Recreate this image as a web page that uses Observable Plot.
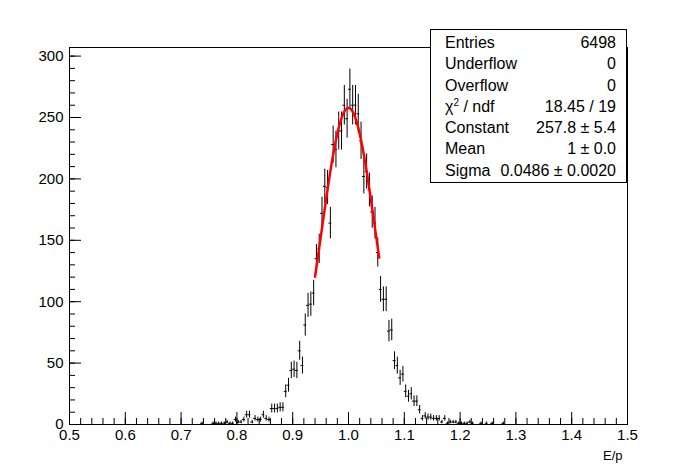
<!DOCTYPE html>
<html><head><meta charset="utf-8">
<script src="https://cdn.jsdelivr.net/npm/d3@7"></script>
<script src="https://cdn.jsdelivr.net/npm/@observablehq/plot@0.6"></script>
<style>
body{margin:0;background:#fff;font-family:"Liberation Sans",Helvetica,Arial,sans-serif}
#wrap{position:relative;width:696px;height:472px}
#stats{position:absolute;left:430px;top:29px;width:197px;height:154px;background:#fff;border:1px solid #000;box-sizing:border-box;font-size:16px;padding:2px 10px 0 14px}
#stats div{display:flex;justify-content:space-between;height:21.3px;line-height:21.3px;overflow:hidden}
#stats sup{font-size:10px;line-height:0;vertical-align:6px}
#xl{position:absolute;left:603px;top:448px;font-size:13px}
</style></head><body>
<div id="wrap"><div id="chart"></div>
<div id="stats"></div>
<div id="xl">E/p</div></div>
<script>
// bin lower edges and counts, bin width 0.005
const binWidth = 0.005
const lowTailEdges = [0.735,0.755,0.760,0.765,0.770,0.775,0.780,0.785,0.790,0.795,0.800,0.805,0.810,0.815,0.820,0.825,0.830,0.835,0.840,0.845,0.850,0.855]
const lowTailCounts = [1,1,1,1,1,1,2,1,1,4,2,2,4,8,8,2,5,4,4,8,5,4]
const coreStart = 0.860
const coreCounts = [13,13,13,14,14,27,32,44,45,44,60,48,81,97,98,107,135,143,172,194,193,164,228,224,239,239,260,249,273,260,260,253,231,202,206,191,173,164,140,110,102,102,76,77,52,48,38,41,27,23,25,19,19,12,5,7,6,6,5,5,5,2,5,1,2,2,2,1,1,1,1,2,1]
const highTailEdges = [1.235,1.245,1.255,1.275]
const highTailCounts = [1,1,1,1]

const fitConst = 257.8, fitMean = 1.0, fitSigma = 0.0486
const fitRange = [0.94, 1.055]

const statLabels = ["Entries","Underflow","Overflow","χ<sup>2</sup> / ndf","Constant","Mean","Sigma"]
const statValues = ["6498","0","0","18.45 / 19","257.8 ± 5.4","1 ± 0.0","0.0486 ± 0.0020"]

const bins = []
lowTailEdges.forEach((e,i) => bins.push({x0:e, n:lowTailCounts[i]}))
coreCounts.forEach((n,i) => bins.push({x0:+(coreStart+i*binWidth).toFixed(3), n}))
highTailEdges.forEach((e,i) => bins.push({x0:e, n:highTailCounts[i]}))
bins.forEach(b => {b.xc = b.x0 + binWidth/2; b.x1 = b.x0 + binWidth; b.e = Math.sqrt(b.n)})

const fit = d3.range(fitRange[0], fitRange[1] + 1e-9, 0.001).map(x => ({x, y: fitConst*Math.exp(-0.5*((x-fitMean)/fitSigma)**2)}))

const chart = Plot.plot({
  width: 696, height: 472,
  marginLeft: 69, marginRight: 69, marginTop: 47, marginBottom: 48,
  style: {fontFamily: "Liberation Sans, Helvetica, sans-serif", fontSize: "15px", color: "black", background: "white"},
  x: {domain: [0.5, 1.5]},
  y: {domain: [0, 307]},
  marks: [
    Plot.frame({stroke: "black"}),
    Plot.axisX({ticks: d3.range(0.5, 1.501, 0.1), tickSize: -12, tickFormat: d => d3.format(".1f")(d), tickPadding: 17, label: null, fontSize: 15}),
    Plot.axisX({ticks: d3.range(0.5, 1.501, 0.02), tickSize: -6, tickFormat: () => "", label: null}),
    Plot.axisY({ticks: d3.range(0, 301, 50), tickSize: -12, tickPadding: 18, label: null, fontSize: 15}),
    Plot.axisY({ticks: d3.range(0, 306, 10), tickSize: -6, tickFormat: () => "", label: null}),
    Plot.ruleX(bins, {x: "xc", y1: d => Math.max(0, d.n - d.e), y2: d => d.n + d.e, stroke: "black", strokeWidth: 1}),
    Plot.ruleY(bins, {y: "n", x1: "x0", x2: "x1", stroke: "black", strokeWidth: 1}),
    Plot.line(fit, {x: "x", y: "y", stroke: "#ff0000", strokeWidth: 2.5})
  ]
})
d3.select("#chart").append(() => chart)

d3.select("#stats").selectAll("div").data(statLabels).join("div")
  .html((d,i) => `<span>${d}</span><span>${statValues[i]}</span>`)
</script></body></html>
